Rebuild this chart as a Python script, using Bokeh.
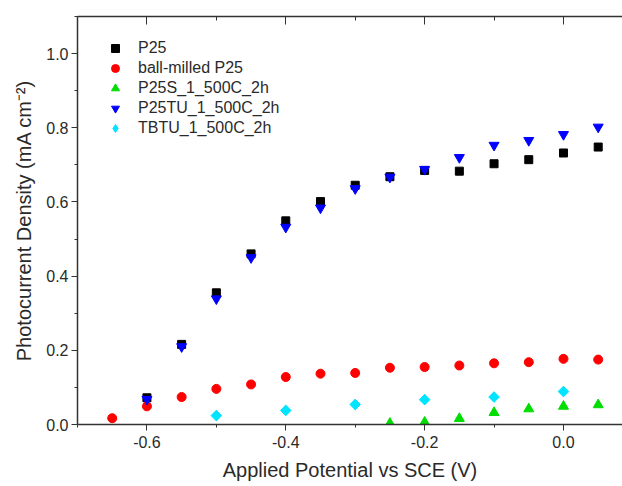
import numpy as np
from bokeh.plotting import figure
from bokeh.models import (Range1d, LinearAxis, Legend, LegendItem, FixedTicker,
                          PrintfTickFormatter, CustomJSTickFormatter)
from bokeh.embed import file_html
from bokeh.resources import INLINE

potential = [-0.65, -0.6, -0.55, -0.5, -0.45, -0.4, -0.35, -0.3, -0.25, -0.2, -0.15, -0.1, -0.05, 0.0, 0.05]

p25_x = [-0.6, -0.55, -0.5, -0.45, -0.4, -0.35, -0.3, -0.25, -0.2, -0.15, -0.1, -0.05, 0.0, 0.05]
p25_y = [0.072, 0.216, 0.355, 0.460, 0.549, 0.601, 0.645, 0.668, 0.685, 0.683, 0.703, 0.714, 0.732, 0.748]

ball_x = potential
ball_y = [0.017, 0.049, 0.074, 0.096, 0.108, 0.128, 0.137, 0.139, 0.153, 0.155, 0.159, 0.165, 0.168, 0.177, 0.175]

p25s_x = [-0.25, -0.2, -0.15, -0.1, -0.05, 0.0, 0.05]
p25s_y = [0.003, 0.006, 0.016, 0.032, 0.042, 0.049, 0.053]

p25tu_x = [-0.6, -0.55, -0.5, -0.45, -0.4, -0.35, -0.3, -0.25, -0.2, -0.15, -0.1, -0.05, 0.0, 0.05]
p25tu_y = [0.068, 0.210, 0.339, 0.450, 0.532, 0.584, 0.636, 0.667, 0.688, 0.720, 0.753, 0.766, 0.782, 0.802]

tbtu_x = [-0.5, -0.4, -0.3, -0.2, -0.1, 0.0]
tbtu_y = [0.024, 0.038, 0.054, 0.067, 0.074, 0.089]

labels = ["P25", "ball-milled P25", "P25S_1_500C_2h", "P25TU_1_500C_2h", "TBTU_1_500C_2h"]
x_ticks = [-0.6, -0.4, -0.2, 0.0]
x_minor = [-0.7, -0.5, -0.3, -0.1]
y_ticks = [0.0, 0.2, 0.4, 0.6, 0.8, 1.0]
y_minor = [0.1, 0.3, 0.5, 0.7, 0.9, 1.1]

FONT = "Liberation Sans"
TXT = "#2a2a2a"

p = figure(width=622, height=486, output_backend="svg", toolbar_location=None,
           x_range=Range1d(-0.70, 0.085), y_range=Range1d(0.0, 1.1),
           min_border_left=77, min_border_right=0, min_border_top=16, min_border_bottom=62)
p.outline_line_color = None
p.xgrid.visible = False
p.ygrid.visible = False
p.background_fill_color = "white"
p.border_fill_color = "white"

r1 = p.scatter(p25_x, p25_y, marker="square", size=8, color="black")
r2 = p.scatter(ball_x, ball_y, marker="circle", size=9, color="#ff0000")
r3 = p.scatter(p25s_x, p25s_y, marker="triangle", size=10, color="#00dd00")
r4 = p.scatter(p25tu_x, p25tu_y, marker="inverted_triangle", size=10, color="#0000ff")
# diamond glyph (used for the legend), covered by a wider rotated square
r5_leg = p.scatter(tbtu_x, tbtu_y, marker="diamond", size=10, color="#00e5ff")
r5 = p.scatter(tbtu_x, tbtu_y, marker="square", size=7.5, angle=np.pi / 4, color="#00e5ff")

for ax in (p.xaxis[0], p.yaxis[0]):
    ax.axis_line_width = 1.5
    ax.axis_line_color = "#333333"
    ax.major_tick_line_color = "#333333"
    ax.minor_tick_line_color = "#333333"
    ax.major_tick_out = 6
    ax.major_tick_in = 0
    ax.minor_tick_out = 3
    ax.minor_tick_in = 0
    ax.major_label_text_font = FONT
    ax.major_label_text_font_size = "16px"
    ax.major_label_text_color = TXT
    ax.axis_label_text_font = FONT
    ax.axis_label_text_font_size = "20px"
    ax.axis_label_text_font_style = "normal"
    ax.axis_label_text_color = TXT
    ax.formatter = PrintfTickFormatter(format="%.1f")

p.xaxis[0].ticker = FixedTicker(ticks=x_ticks, minor_ticks=x_minor)
p.yaxis[0].ticker = FixedTicker(ticks=y_ticks, minor_ticks=y_minor)
p.xaxis[0].axis_label = "Applied Potential vs SCE (V)"
p.yaxis[0].axis_label = "Photocurrent Density (mA cm\u207b\u00b2)"
p.xaxis[0].major_label_standoff = 5
p.yaxis[0].major_label_standoff = 3
p.xaxis[0].axis_label_standoff = 8
p.yaxis[0].axis_label_standoff = 8

top = LinearAxis(ticker=FixedTicker(ticks=x_ticks, minor_ticks=x_minor),
                 formatter=CustomJSTickFormatter(code="return ''"))
top.axis_line_width = 1.5
top.axis_line_color = "#333333"
top.major_tick_line_color = "#333333"
top.minor_tick_line_color = "#333333"
top.major_tick_in = 8
top.major_tick_out = 0
top.minor_tick_in = 4
top.minor_tick_out = 0
top.major_label_standoff = 0
p.add_layout(top, "above")

legend = Legend(items=[LegendItem(label=labels[0], renderers=[r1]),
                       LegendItem(label=labels[1], renderers=[r2]),
                       LegendItem(label=labels[2], renderers=[r3]),
                       LegendItem(label=labels[3], renderers=[r4]),
                       LegendItem(label=labels[4], renderers=[r5_leg])],
                location=(28, 286))
legend.border_line_color = None
legend.background_fill_alpha = 0
legend.padding = 0
legend.margin = 0
legend.spacing = 0
legend.label_height = 20
legend.glyph_height = 20
legend.glyph_width = 20
legend.label_standoff = 13
legend.label_text_font = FONT
legend.label_text_font_size = "16px"
legend.label_text_color = TXT
p.add_layout(legend, "center")

open("out.html", "w").write(file_html(p, INLINE))
